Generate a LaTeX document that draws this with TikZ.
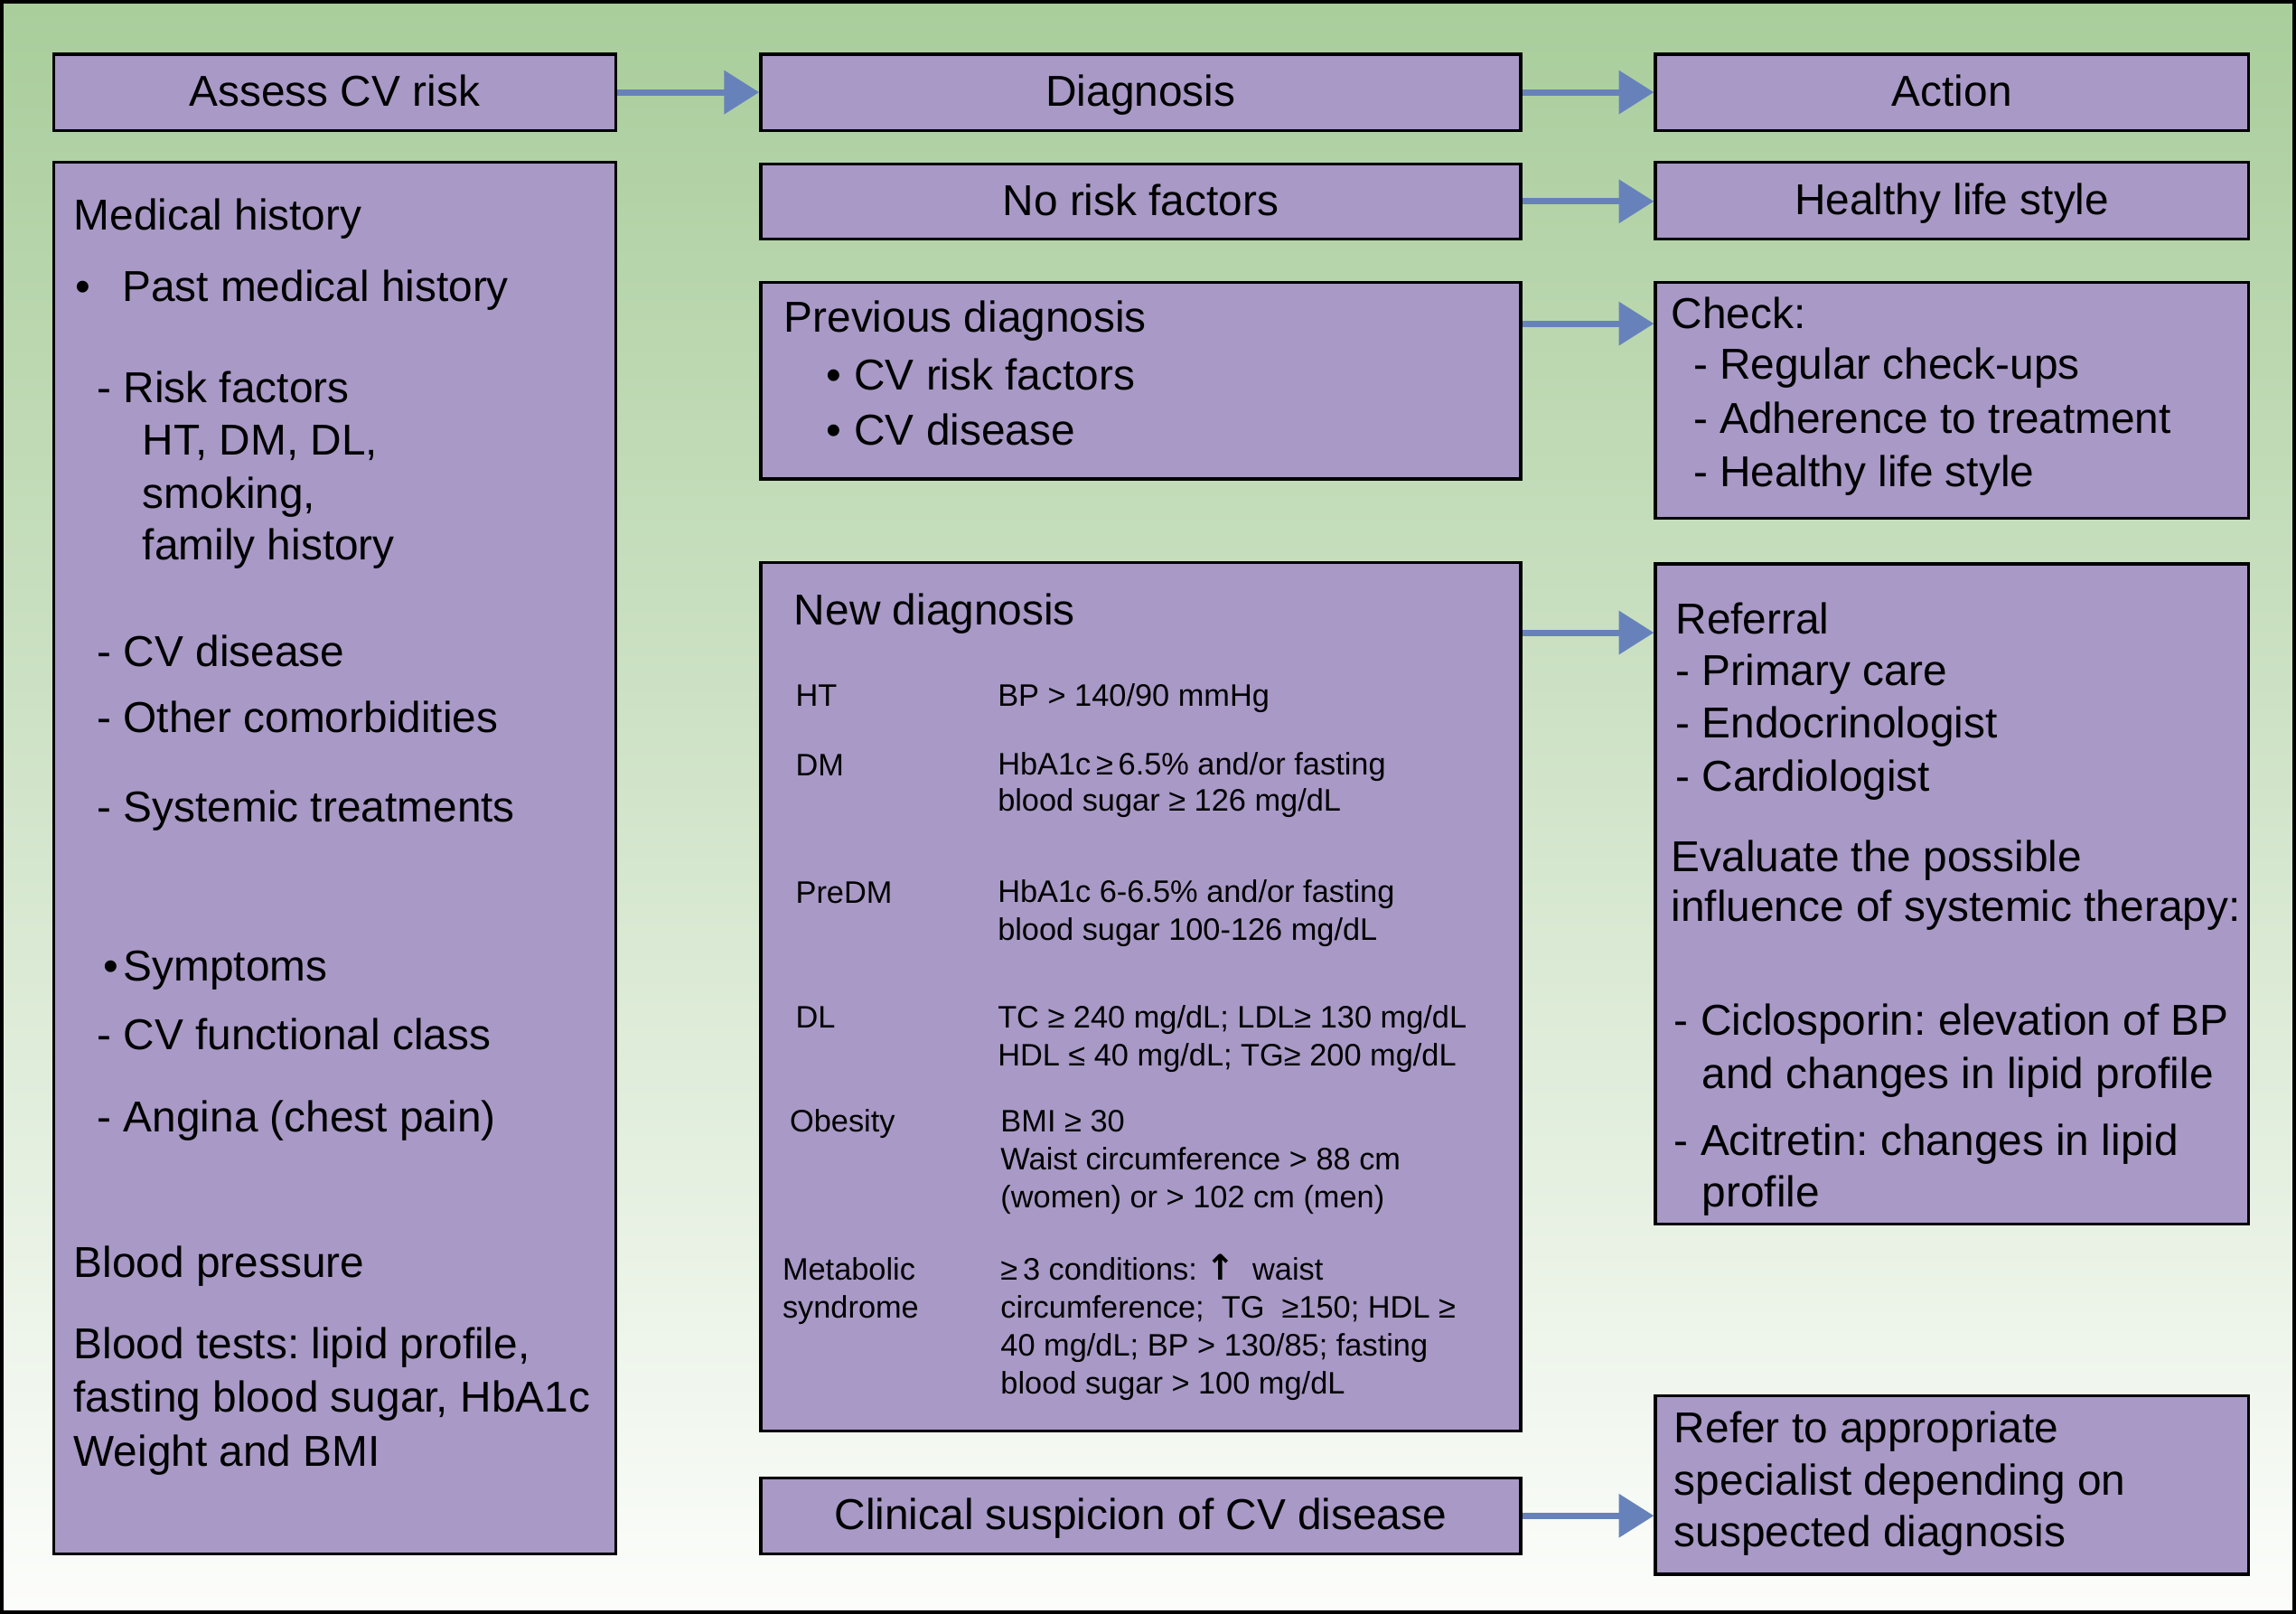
\documentclass[tikz,border=0pt]{standalone}
\usepackage{fontspec}
\setmainfont{Liberation Sans}
\newfontfamily\arrowfont{DejaVu Sans}
\usetikzlibrary{arrows.meta}
\definecolor{boxfill}{RGB}{168,153,198}
\definecolor{arrowblue}{RGB}{103,130,187}
\definecolor{bgtop}{RGB}{169,205,155}
\definecolor{bgbottom}{RGB}{252,253,251}
\tikzset{
  box/.style={draw, line width=1pt, fill=boxfill, anchor=north west, inner sep=0pt, text height=10.5pt, text depth=1pt},
  txt/.style={anchor=base west, inner sep=0pt},
  tab/.style={txt, font=\fontsize{10.6}{13}\selectfont},
  arr/.style={arrowblue, line width=2.2pt, -{Triangle[length=12pt,width=14.5pt]}}
}
\begin{document}
\frenchspacing
\begin{tikzpicture}[x=0.5pt, y=-0.5pt, every node/.style={font=\fontsize{14.75}{18}\selectfont}]
        \useasboundingbox (0,0) rectangle (1568,1102);
        \shade[top color=bgtop, bottom color=bgbottom] (0,0) rectangle (1568,1102);
        \draw[line width=1.2pt] (1.2,1.2) rectangle (1566.8,1100.8);
        \node[box, minimum width=192pt, minimum height=26pt] (assess) at (35.5,36) {Assess CV risk};
        \node[box, minimum width=192pt, minimum height=475pt] (history) at (35.5,110) {};
        \node[box, minimum width=259.5pt, minimum height=26pt] (diag) at (518.5,36) {Diagnosis};
        \node[box, minimum width=259.5pt, minimum height=25.5pt] (norisk) at (518.5,111) {No risk factors};
        \node[box, minimum width=259.5pt, minimum height=67pt] (prev) at (518.5,192) {};
        \node[box, minimum width=259.5pt, minimum height=296.5pt] (new) at (518.5,383) {};
        \node[box, minimum width=259.5pt, minimum height=26pt] (clin) at (518.5,1008) {Clinical suspicion of CV disease};
        \node[box, minimum width=202.5pt, minimum height=26pt] (action) at (1129.5,36) {Action};
        \node[box, minimum width=202.5pt, minimum height=26pt] (healthy) at (1129.5,110) {Healthy life style};
        \node[box, minimum width=202.5pt, minimum height=80.5pt] (check) at (1129.5,192) {};
        \node[box, minimum width=202.5pt, minimum height=225.5pt] (referral) at (1129.5,384) {};
        \node[box, minimum width=202.5pt, minimum height=61pt] (refer) at (1129.5,952) {};
        \foreach \x/\y/\t in {50/157/{Medical history}, 51/206/{\makebox[16pt][l]{•}Past medical history},
            66/275/{- Risk factors}, 97/311/{HT, DM, DL,}, 97/347/{smoking,}, 97/382/{family history},
            66/455/{- CV disease}, 66/500/{- Other comorbidities}, 66/561/{- Systemic treatments},
            70/670/{\makebox[7pt][l]{•}Symptoms}, 66/717/{- CV functional class}, 66/773/{- Angina (chest pain)},
            50/872/{Blood pressure}, 50/928/{Blood tests: lipid profile,}, 50/964/{fasting blood sugar, HbA1c},
            50/1001/{Weight and BMI}}
          \node[txt] (hist-\y) at (\x,\y) {\t};
        \foreach \x/\y/\t in {535/227/{Previous diagnosis}, 564/266/{\makebox[9.5pt][l]{•}CV risk factors},
            564/304/{\makebox[9.5pt][l]{•}CV disease}, 542/427/{New diagnosis}}
          \node[txt] (diag-\y) at (\x,\y) {\t};
        \foreach \x/\y/\t in {543/482/{HT}, 543/530/{DM}, 543/617/{PreDM}, 543/702/{DL}, 539/773/{Obesity},
            534/874/{Metabolic}, 534/900/{syndrome}}
          \node[tab] (crit-\y) at (\x,\y) {\t};
        \foreach \x/\y/\t in {681/482/{BP > 140/90 mmHg}, 681/529/{HbA1c\,≥\,6.5\% and/or fasting},
            681/554/{blood sugar ≥ 126 mg/dL}, 681/616/{HbA1c 6-6.5\% and/or fasting},
            681/642/{blood sugar 100-126 mg/dL}, 681/702/{TC ≥ 240 mg/dL; LDL≥ 130 mg/dL},
            681/728/{HDL ≤ 40 mg/dL; TG≥ 200 mg/dL}, 683/773/{BMI ≥ 30},
            683/799/{Waist circumference > 88 cm}, 683/825/{(women) or > 102 cm (men)},
            683/874/{≥\,3 conditions: {\arrowfont\bfseries\fontsize{12}{12}\selectfont ↑}\ \ waist},
            683/900/{circumference;\ \ TG\ \ ≥150; HDL ≥},
            683/926/{40 mg/dL; BP > 130/85; fasting}, 683/952/{blood sugar > 100 mg/dL}}
          \node[tab] (val-\y) at (\x,\y) {\t};
        \foreach \x/\y/\t in {1141/224/{Check:}, 1156/259/{- Regular check-ups},
            1156/296/{- Adherence to treatment}, 1156/332/{- Healthy life style},
            1144/433/{Referral}, 1144/468/{- Primary care}, 1144/504/{- Endocrinologist},
            1144/540/{- Cardiologist}, 1141/595/{Evaluate the possible},
            1141/629/{influence of systemic therapy:}, 1143/707/{- Ciclosporin: elevation of BP},
            1162/743/{and changes in lipid profile}, 1143/789/{- Acitretin: changes in lipid},
            1162/824/{profile}, 1143/985/{Refer to appropriate}, 1143/1021/{specialist depending on},
            1143/1056/{suspected diagnosis}}
          \node[txt] (act-\y) at (\x,\y) {\t};
        \coordinate (prevout) at ([yshift=-14.5pt]prev.north east);
        \coordinate (newout) at ([yshift=-24.5pt]new.north east);
        \draw[arr] (assess) -- (diag);
        \draw[arr] (diag) -- (action);
        \draw[arr] (norisk.east) -- (norisk.east -| healthy.west);
        \draw[arr] (prevout) -- (prevout -| check.west);
        \draw[arr] (newout) -- (newout -| referral.west);
        \draw[arr] (clin.east) -- (clin.east -| refer.west);
      \end{tikzpicture}
\end{document}
